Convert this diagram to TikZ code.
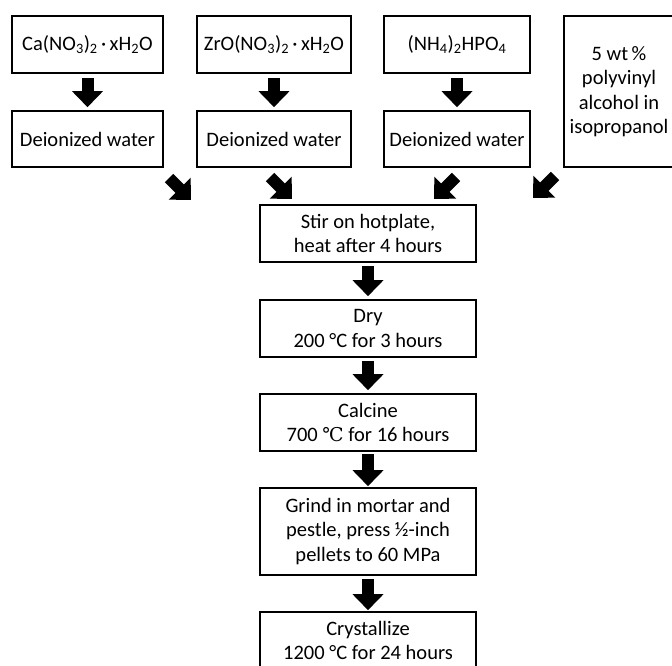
\documentclass[tikz,border=0pt]{standalone}
\usepackage{fontspec}
\setmainfont{Carlito}
\newfontfamily\celsiusfont{DejaVu Serif}
\usetikzlibrary{arrows.meta}
\tikzset{
  box/.style={draw=black, line width=1.6pt, align=center, inner sep=0pt,
    font=\fontsize{20.5}{24.5}\selectfont},
  barrow/.style={line width=12pt, -{Triangle[width=30pt,length=16pt]}, black}
}
\begin{document}
\begin{tikzpicture}[x=1pt,y=-1pt]
\clip (0,0) rectangle (672,666);
\fill[white] (0,0) rectangle (672,666);
% top row
\node[box, minimum width=151pt, minimum height=57pt] (ca) at (87.5,44.5) {Ca(NO\textsubscript{3})\textsubscript{2}\,·\,xH\textsubscript{2}O};
\node[box, minimum width=154pt, minimum height=57pt] (zr) at (274,44.5) {ZrO(NO\textsubscript{3})\textsubscript{2}\,·\,xH\textsubscript{2}O};
\node[box, minimum width=146pt, minimum height=57pt] (nh) at (457,44.5) {(NH\textsubscript{4})\textsubscript{2}HPO\textsubscript{4}};
\node[box, minimum width=110pt, minimum height=151pt] (pva) at (619,91.5) {5 wt\,\%\\polyvinyl\\alcohol in\\isopropanol};
% deionized water
\node[box, minimum width=151pt, minimum height=56pt] (dw1) at (87.5,139) {Deionized water};
\node[box, minimum width=154pt, minimum height=56pt] (dw2) at (274,139) {Deionized water};
\node[box, minimum width=146pt, minimum height=56pt] (dw3) at (457,139) {Deionized water};
% main column
\node[box, minimum width=216pt, minimum height=57pt] (stir) at (368,233.5) {Stir on hotplate,\\heat after 4 hours};
\node[box, minimum width=216pt, minimum height=57pt] (dry) at (368,328.5) {Dry\\200 °C for 3 hours};
\node[box, minimum width=216pt, minimum height=57pt] (calc) at (368,422.5) {Calcine\\700 {\celsiusfont\fontsize{19}{24}\selectfont ℃} for 16 hours};
\node[box, minimum width=216pt, minimum height=87pt] (grind) at (368,531.5) {Grind in mortar and\\pestle, press ½-inch\\pellets to 60 MPa};
\node[box, minimum width=216pt, minimum height=57pt] (cryst) at (368,640.5) {Crystallize\\1200 °C for 24 hours};
% vertical arrows
\draw[barrow] ([yshift=-4pt]ca.south) -- ([yshift=3pt]dw1.north);
\draw[barrow] ([yshift=-4pt]zr.south) -- ([yshift=3pt]dw2.north);
\draw[barrow] ([yshift=-4pt]nh.south) -- ([yshift=3pt]dw3.north);
\draw[barrow] ([yshift=-3pt]stir.south) -- ([yshift=3pt]dry.north);
\draw[barrow] ([yshift=-3pt]dry.south) -- ([yshift=3pt]calc.north);
\draw[barrow] ([yshift=-2pt]calc.south) -- ([yshift=1pt]grind.north);
\draw[barrow] ([yshift=-3pt]grind.south) -- ([yshift=1pt]cryst.north);
% diagonal arrows
\coordinate (t1) at (169,178); \coordinate (h1) at (191,200);
\coordinate (t2) at (270,177); \coordinate (h2) at (292,199);
\coordinate (t3) at (456,177); \coordinate (h3) at (434,199);
\coordinate (t4) at (555,176); \coordinate (h4) at (533,198);
\draw[barrow] (t1) -- (h1);
\draw[barrow] (t2) -- (h2);
\draw[barrow] (t3) -- (h3);
\draw[barrow] (t4) -- (h4);
\end{tikzpicture}
\end{document}
